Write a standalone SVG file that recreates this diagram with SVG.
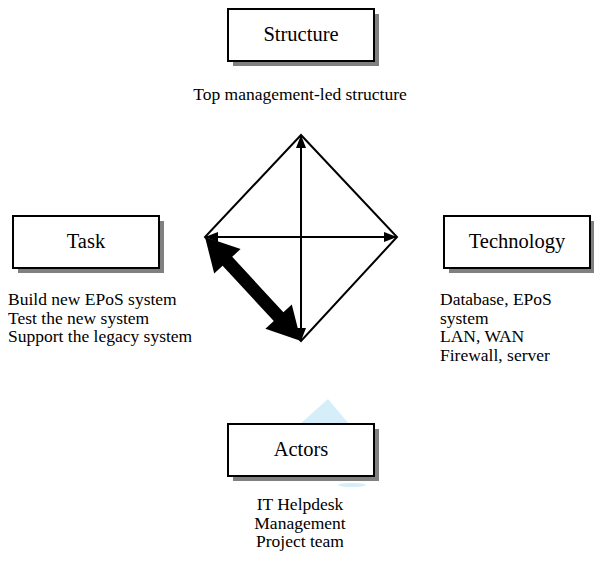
<svg xmlns="http://www.w3.org/2000/svg" width="594" height="567" viewBox="0 0 594 567">
  <style>
    .box { fill: #ffffff; stroke: #000000; stroke-width: 2; }
    .shadow { fill: #808080; }
    .label { font-family: "Liberation Serif", "Times New Roman", serif; font-size: 20.5px; fill: #000000; text-anchor: middle; }
    .desc { font-family: "Liberation Serif", "Times New Roman", serif; font-size: 17.5px; fill: #000000; }
    .mid { text-anchor: middle; }
    .edge { fill: none; stroke: #000000; stroke-width: 2; }
    .thin { fill: none; stroke: #000000; stroke-width: 2; marker-start: url(#head); marker-end: url(#head); }
    .mark { fill: #d6eefa; }
  </style>
  <defs>
    <marker id="head" viewBox="0 0 13 10" refX="12" refY="5" markerWidth="13" markerHeight="10" markerUnits="userSpaceOnUse" orient="auto-start-reverse">
      <path d="M0,0 L13,5 L0,10 Z" fill="#000000"/>
    </marker>
  </defs>

  <rect width="594" height="567" fill="#ffffff"/>

  <!-- pale blue shapes behind the Actors box -->
  <g id="backdrop">
    <polygon class="mark" points="300,424 328,399 349,424"/>
    <ellipse class="mark" cx="352" cy="485" rx="14" ry="2"/>
  </g>

  <!-- connectors: diamond outline, cross arrows, heavy Task-Actors arrow -->
  <g id="connectors">
    <polygon class="edge" points="301,135 397,237 301,341 205,237"/>
    <line class="thin" x1="301" y1="340" x2="301" y2="136"/>
    <line class="thin" x1="206" y1="237" x2="396" y2="237"/>
    <polygon fill="#000000" points="205,237 240.6,249.1 232.2,256.8 283.4,312.2 291.8,304.5 301,341 265.4,328.8 273.8,321.1 222.6,265.8 214.2,273.5"/>
  </g>

  <g id="structure">
    <rect class="shadow" x="233" y="14" width="146" height="52"/>
    <rect class="box" x="228" y="9" width="146" height="52"/>
    <text class="label" x="301" y="41">Structure</text>
    <text class="desc mid" x="300" y="100">Top management-led structure</text>
  </g>

  <g id="task">
    <rect class="shadow" x="18" y="221" width="146" height="52"/>
    <rect class="box" x="13" y="216" width="146" height="52"/>
    <text class="label" x="86" y="248">Task</text>
    <text class="desc" x="8" y="305">Build new EPoS system</text>
    <text class="desc" x="8" y="323.5">Test the new system</text>
    <text class="desc" x="8" y="342">Support the legacy system</text>
  </g>

  <g id="technology">
    <rect class="shadow" x="449" y="221" width="146" height="52"/>
    <rect class="box" x="444" y="216" width="146" height="52"/>
    <text class="label" x="517" y="248">Technology</text>
    <text class="desc" x="440" y="305">Database, EPoS</text>
    <text class="desc" x="440" y="323.5">system</text>
    <text class="desc" x="440" y="342">LAN, WAN</text>
    <text class="desc" x="440" y="360.5">Firewall, server</text>
  </g>

  <g id="actors">
    <rect class="shadow" x="233" y="429" width="146" height="52"/>
    <rect class="box" x="228" y="424" width="146" height="52"/>
    <text class="label" x="301" y="456">Actors</text>
    <text class="desc mid" x="300" y="510">IT Helpdesk</text>
    <text class="desc mid" x="300" y="528.5">Management</text>
    <text class="desc mid" x="300" y="547">Project team</text>
  </g>
</svg>
